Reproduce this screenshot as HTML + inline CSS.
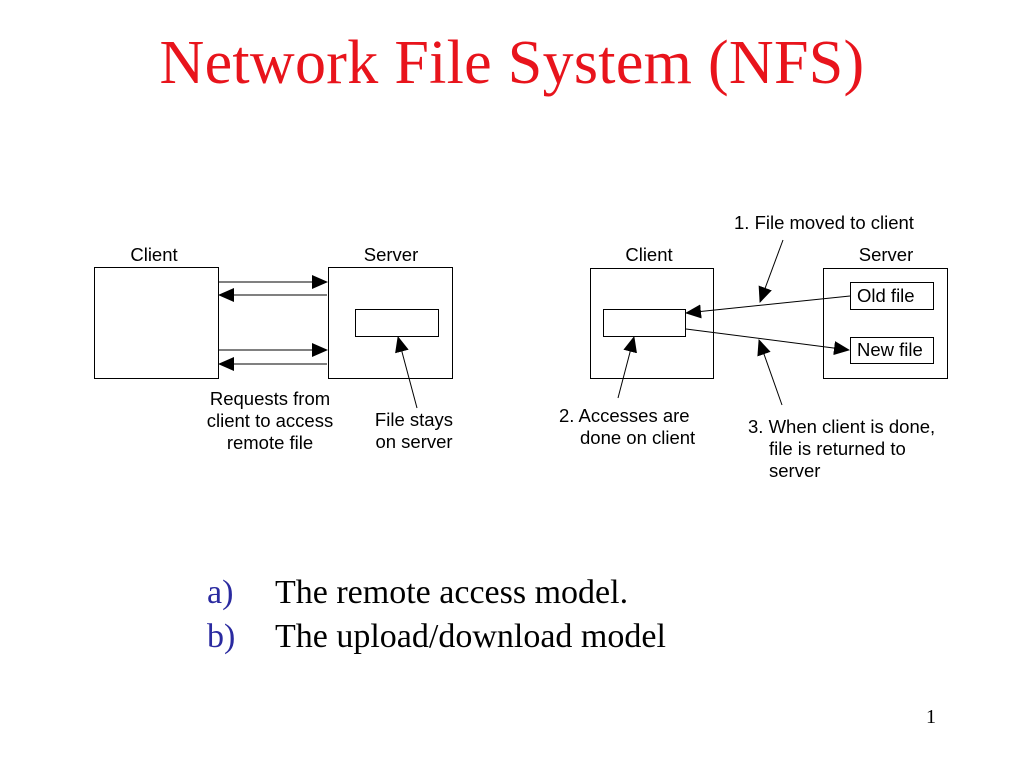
<!DOCTYPE html>
<html><head><style>
body{margin:0;background:#fff;width:1024px;height:768px;overflow:hidden;position:relative}
.t{position:absolute;left:0;width:1024px;text-align:center;top:28px;font:62px "Liberation Serif",serif;color:#e8141c;letter-spacing:0.3px}
.l{position:absolute;font:34px "Liberation Serif",serif;color:#000}
</style></head><body>
<div class="t">Network File System (NFS)</div>
<svg width="1024" height="768" style="position:absolute;left:0;top:0">
<defs><marker id="a" markerWidth="16" markerHeight="14" refX="15" refY="7" orient="auto" markerUnits="userSpaceOnUse"><path d="M0,0L16,7L0,14z" fill="#000"/></marker></defs>
<g fill="none" stroke="#000" stroke-width="1">
<rect x="94.5" y="267.5" width="124" height="111"/>
<rect x="328.5" y="267.5" width="124" height="111"/>
<rect x="355.5" y="309.5" width="83" height="27"/>
<line x1="219" y1="282" x2="327" y2="282" marker-end="url(#a)"/>
<line x1="327" y1="295" x2="219" y2="295" marker-end="url(#a)"/>
<line x1="219" y1="350" x2="327" y2="350" marker-end="url(#a)"/>
<line x1="327" y1="364" x2="219" y2="364" marker-end="url(#a)"/>
<line x1="417" y1="408" x2="398" y2="337" marker-end="url(#a)"/>
<rect x="590.5" y="268.5" width="123" height="110"/>
<rect x="823.5" y="268.5" width="124" height="110"/>
<rect x="603.5" y="309.5" width="82" height="27"/>
<rect x="850.5" y="282.5" width="83" height="27"/>
<rect x="850.5" y="337.5" width="83" height="26"/>
<line x1="850" y1="296" x2="686" y2="313" marker-end="url(#a)"/>
<line x1="686" y1="329" x2="849" y2="350" marker-end="url(#a)"/>
<line x1="783" y1="240" x2="760" y2="302" marker-end="url(#a)"/>
<line x1="618" y1="398" x2="634" y2="337" marker-end="url(#a)"/>
<line x1="782" y1="405" x2="759" y2="340" marker-end="url(#a)"/>
</g>
<g font-family="Liberation Sans, sans-serif" font-size="18.5" fill="#000">
<text x="154" y="261" text-anchor="middle">Client</text>
<text x="391" y="261" text-anchor="middle">Server</text>
<text x="270" y="405" text-anchor="middle">Requests from</text>
<text x="270" y="427" text-anchor="middle">client to access</text>
<text x="270" y="449" text-anchor="middle">remote file</text>
<text x="414" y="426" text-anchor="middle">File stays</text>
<text x="414" y="448" text-anchor="middle">on server</text>
<text x="649" y="261" text-anchor="middle">Client</text>
<text x="886" y="261" text-anchor="middle">Server</text>
<text x="734" y="229">1. File moved to client</text>
<text x="857" y="302">Old file</text>
<text x="857" y="356">New file</text>
<text x="559" y="422">2. Accesses are</text>
<text x="580" y="444">done on client</text>
<text x="748" y="433">3. When client is done,</text>
<text x="769" y="455">file is returned to</text>
<text x="769" y="477">server</text>
</g>
</svg>
<div class="l" style="left:207px;top:574px;color:#2a2aa0">a)</div>
<div class="l" style="left:275px;top:574px">The remote access model.</div>
<div class="l" style="left:207px;top:618px;color:#2a2aa0">b)</div>
<div class="l" style="left:275px;top:618px">The upload/download model</div>
<div class="l" style="left:926px;top:706px;font-size:20px">1</div>
</body></html>
